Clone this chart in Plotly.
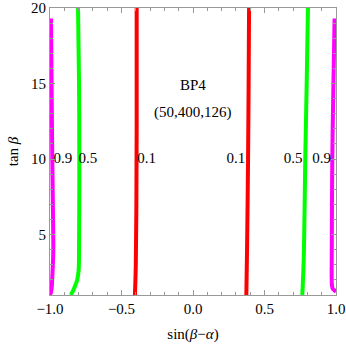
import plotly.graph_objects as go

# contour lines: sin(beta-alpha) vs tan(beta)
mag_left_x = [-1.0, -0.993, -0.988, -0.985, -0.980, -0.977, -0.980, -0.984, -0.989, -0.993]
mag_left_y = [1.0, 1.2, 1.5, 2.0, 3.0, 4.0, 7.0, 10.0, 15.0, 19.3]

mag_right_x = [1.0, 0.99, 0.978, 0.972, 0.970, 0.970, 0.971, 0.974, 0.982, 0.99]
mag_right_y = [1.2, 1.3, 1.4, 1.6, 2.0, 3.0, 5.0, 10.0, 15.0, 19.3]

green_left_x = [-0.855, -0.840, -0.825, -0.810, -0.800, -0.797, -0.795, -0.797, -0.804]
green_left_y = [1.0, 1.25, 1.6, 2.0, 2.6, 4.0, 10.0, 15.0, 20.0]

green_right_x = [0.764, 0.767, 0.776, 0.785, 0.795, 0.804]
green_right_y = [1.0, 1.5, 4.0, 10.0, 15.0, 20.0]

red_left_x = [-0.406, -0.400, -0.396, -0.394, -0.394]
red_left_y = [1.0, 3.0, 7.0, 12.0, 20.0]

red_right_x = [0.373, 0.378, 0.385, 0.389, 0.392]
red_right_y = [1.0, 4.0, 10.0, 15.0, 20.0]

label_text = ["0.9", "0.5", "0.1", "0.1", "0.5", "0.9"]
label_x = [-0.91, -0.735, -0.325, 0.30, 0.70, 0.90]
label_y = [10, 10, 10, 10, 10, 10]

MAGENTA = "#ff00ff"
GREEN = "#00ff00"
RED = "#ff0000"
FONT = "Liberation Serif"
FS = 15

fig = go.Figure()
curves = [
    (mag_left_x, mag_left_y, MAGENTA),
    (mag_right_x, mag_right_y, MAGENTA),
    (green_left_x, green_left_y, GREEN),
    (green_right_x, green_right_y, GREEN),
    (red_left_x, red_left_y, RED),
    (red_right_x, red_right_y, RED),
]
for xs, ys, col in curves:
    fig.add_trace(go.Scatter(x=xs, y=ys, mode="lines", line=dict(color=col, width=4, shape="spline"),
                             showlegend=False, hoverinfo="skip"))

fig.add_trace(go.Scatter(x=label_x, y=label_y, mode="text", text=label_text, hoverinfo="skip",
                         textfont=dict(family=FONT, size=FS, color="black"), showlegend=False))

fig.add_annotation(x=0, y=14.9, text="BP4", showarrow=False, font=dict(family=FONT, size=FS, color="black"))
fig.add_annotation(x=0, y=13.05, text="(50,400,126)", showarrow=False, font=dict(family=FONT, size=FS, color="black"))

axis_style = dict(showgrid=False, zeroline=False, showline=True, linecolor="#999999", linewidth=1,
                  mirror="allticks", ticks="inside", ticklen=5, tickcolor="#999999", automargin=False,
                  tickfont=dict(family=FONT, size=FS, color="black"))

fig.update_xaxes(range=[-1, 1], tickvals=[-1.0, -0.5, 0.0, 0.5, 1.0],
                 ticktext=["\u22121.0", "\u22120.5", "0.0", "0.5", "1.0"],
                 minor=dict(ticks="inside", dtick=0.1, ticklen=3, tickcolor="#999999"),
                 title=dict(text="sin(<i>\u03b2</i>\u2212<i>\u03b1</i>)", font=dict(family=FONT, size=FS, color="black"), standoff=12),
                 **axis_style)
fig.update_yaxes(range=[1, 20], tickvals=[5, 10, 15, 20],
                 minor=dict(ticks="inside", dtick=1, tick0=0, ticklen=3, tickcolor="#999999"),
                 title=dict(text="tan <i>\u03b2</i>", font=dict(family=FONT, size=FS, color="black"), standoff=8),
                 **axis_style)

fig.update_layout(width=346, height=347, margin=dict(l=50, r=10, t=8, b=52),
                  plot_bgcolor="white", paper_bgcolor="white")

fig.write_html("out.html", config={"displayModeBar": False},
               post_script="document.body.style.margin='0px';")
